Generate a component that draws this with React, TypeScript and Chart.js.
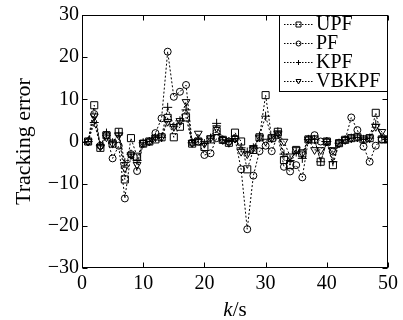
import React, { useEffect, useRef } from 'react';
import { Chart, registerables } from 'chart.js';

Chart.register(...registerables);

const kSteps = [1, 2, 3, 4, 5, 6, 7, 8, 9, 10, 11, 12, 13, 14, 15, 16, 17, 18, 19, 20, 21, 22, 23, 24, 25, 26, 27, 28, 29, 30, 31, 32, 33, 34, 35, 36, 37, 38, 39, 40, 41, 42, 43, 44, 45, 46, 47, 48, 49, 50];

const upf = [0, 8.6, -1.5, 1.5, -0.5, 2.3, -9, 0.8, -3.6, -0.5, 0, 0.5, 1, 5.6, 1, 3.5, 5.7, -0.5, 0, -1.3, 0.5, 2.5, 0.4, -0.3, 2.1, 0, -6.6, -2, 1, 11, 0.8, 2.3, -4.4, -5.6, -2, -2.8, 0.5, 0.5, -4.8, 0, -5.6, -0.4, 0.4, 0.8, 1, 0.5, 0.8, 6.8, 0.5, 0.5];
const pf = [0, 6.5, -1, 1.5, -4, -1, -13.5, -3, -7, -0.5, 0, 2, 5.5, 21.3, 10.6, 11.8, 13.4, -0.3, 0, -3.2, -2.8, 0.8, 0.4, 0, 0.7, -6.6, -20.8, -8.1, -2.3, -1, -2.3, 1.5, -6, -7.1, -5.6, -8.5, 0.5, 1.5, 0, 0, -2.4, -0.4, 0.4, 5.7, 2.7, -1.2, -4.8, -1, 0.5, 0.5];
const kpf = [0, 4.5, -1, 2, -0.3, 2, -5, -3, -4.5, -0.3, 0, 1, 1, 8.1, 3.5, 4.9, 7.5, -0.3, 0.5, -0.5, 0.8, 4.3, 0.4, 0, 0.7, -1.5, -2.5, -1.5, 1.3, 6, 0.8, 2.3, -3, -4.5, -2.5, -4, 0.5, 0.5, -4.8, 0, -4.8, -0.4, 0.4, 0.8, 1, 0.5, 0.8, 4.1, 1, 0.5];
const vbkpf = [0, 6, -1.2, 1, -0.5, 1.5, -6.3, -3.2, -5.5, -0.3, 0, 1, 1, 4.7, 3.5, 4.9, 9.4, -0.3, 1.9, -0.5, 0.8, 3.2, 0.4, -0.3, 0.7, -2.4, -3, -1.5, 1, 0, 0.8, 2, 0, -3.5, -2, -2.8, 0.5, -2, -2, 0, -2, -0.4, 0.4, 0.8, 1, 0.5, 0.8, 3.5, 2.3, 0.5];

const seriesNames = ['UPF', 'PF', 'KPF', 'VBKPF'];
const xTicks = [0, 10, 20, 30, 40, 50];
const yTicks = [-30, -20, -10, 0, 10, 20, 30];

const FONT = '"Liberation Serif", "DejaVu Serif", serif';

function drawMarker(ctx: CanvasRenderingContext2D, kind: string, x: number, y: number, r: number) {
  ctx.beginPath();
  if (kind === 'rect') {
    ctx.rect(x - r, y - r, 2 * r, 2 * r);
  } else if (kind === 'circle') {
    ctx.arc(x, y, r, 0, Math.PI * 2);
  } else if (kind === 'cross') {
    ctx.moveTo(x - r, y); ctx.lineTo(x + r, y);
    ctx.moveTo(x, y - r); ctx.lineTo(x, y + r);
  } else {
    ctx.moveTo(x - r, y - r * 0.8);
    ctx.lineTo(x + r, y - r * 0.8);
    ctx.lineTo(x, y + r);
    ctx.closePath();
  }
  ctx.stroke();
}

const markerKinds = ['rect', 'circle', 'cross', 'triDown'];

const framePlugin = {
  id: 'frame',
  afterDatasetsDraw(chart: any) {
    const { ctx, chartArea: a, scales } = chart;
    ctx.save();
    ctx.strokeStyle = '#000';
    ctx.lineWidth = 1;
    ctx.setLineDash([]);
    const L = Math.round(a.left) + 0.5;
    const R = Math.round(a.right) - 0.5;
    const T = Math.round(a.top) + 0.5;
    const B = Math.round(a.bottom) - 0.5;

    // legend
    ctx.font = `20px ${FONT}`;
    const textX = 316;
    const lx0 = 279.5, lx1 = R, ly0 = T, ly1 = 91.5;
    ctx.fillStyle = '#fff';
    ctx.fillRect(lx0, ly0, lx1 - lx0, ly1 - ly0);
    ctx.strokeRect(lx0, ly0, lx1 - lx0, ly1 - ly0);
    ctx.textBaseline = 'middle';
    ctx.textAlign = 'left';
    seriesNames.forEach((name, i) => {
      const y = 24 + i * 19;
      ctx.strokeStyle = '#000';
      ctx.lineWidth = 1;
      ctx.setLineDash([1.5, 1.5]);
      ctx.beginPath();
      ctx.moveTo(284, y + 0.5); ctx.lineTo(313, y + 0.5);
      ctx.stroke();
      ctx.setLineDash([]);
      drawMarker(ctx, markerKinds[i], 298.5, y + 0.5, 2.5);
      ctx.fillStyle = '#000';
      ctx.fillText(name, textX, y + 1);
    });

    ctx.strokeRect(L, T, R - L, B - T);
    const tl = 5;
    ctx.beginPath();
    xTicks.forEach((v) => {
      const px = Math.round(scales.x.getPixelForValue(v)) + 0.5;
      ctx.moveTo(px, B); ctx.lineTo(px, B - tl);
      ctx.moveTo(px, T); ctx.lineTo(px, T + tl);
    });
    yTicks.forEach((v) => {
      const py = Math.round(scales.y.getPixelForValue(v)) + 0.5;
      ctx.moveTo(L, py); ctx.lineTo(L + tl, py);
      if (py > ly1 || py < ly0) { ctx.moveTo(R, py); ctx.lineTo(R - tl, py); }
    });
    ctx.stroke();

    // axis titles
    ctx.fillStyle = '#000';
    ctx.textBaseline = 'alphabetic';
    ctx.font = `italic 21px ${FONT}`;
    const kw = ctx.measureText('k').width;
    ctx.font = `21px ${FONT}`;
    const sw = ctx.measureText('/s').width;
    const cx = (a.left + a.right) / 2;
    const startX = cx - (kw + sw) / 2;
    ctx.font = `italic 21px ${FONT}`;
    ctx.fillText('k', startX, 316);
    ctx.font = `21px ${FONT}`;
    ctx.fillText('/s', startX + kw, 316);

    ctx.save();
    ctx.translate(30, (a.top + a.bottom) / 2);
    ctx.rotate(-Math.PI / 2);
    ctx.textAlign = 'center';
    ctx.font = `22px ${FONT}`;
    ctx.fillText('Tracking error', 0, 0);
    ctx.restore();
    ctx.restore();
  },
};

export default function App() {
  const ref = useRef<HTMLCanvasElement | null>(null);
  useEffect(() => {
    if (!ref.current) return;
    const all = [upf, pf, kpf, vbkpf];
    const styles = [
      { pointStyle: 'rect', radius: 5, rot: 0 },
      { pointStyle: 'circle', radius: 3.5, rot: 0 },
      { pointStyle: 'cross', radius: 4.5, rot: 0 },
      { pointStyle: 'triangle', radius: 4.5, rot: 180 },
    ];
    const datasets = all.map((vals, i) => ({
      label: seriesNames[i],
      data: kSteps.map((k, j) => ({ x: k, y: vals[j] })),
      borderColor: '#000',
      borderWidth: 1,
      borderDash: [2, 2],
      pointStyle: styles[i].pointStyle as any,
      pointRadius: styles[i].radius,
      pointRotation: styles[i].rot,
      pointBorderColor: '#000',
      pointBackgroundColor: 'rgba(0,0,0,0)',
      pointBorderWidth: 1,
      fill: false,
      tension: 0,
    }));
    const chart = new Chart(ref.current, {
      type: 'line',
      data: { datasets },
      options: {
        animation: false,
        responsive: false,
        layout: { padding: { left: 0, right: 15, top: 15, bottom: 0 } },
        plugins: { legend: { display: false }, tooltip: { enabled: false } },
        scales: {
          x: {
            type: 'linear',
            min: 0,
            max: 50,
            grid: { display: false, drawTicks: false },
            border: { display: false },
            afterFit: (s: any) => { s.height = 52; },
            afterBuildTicks: (s: any) => { s.ticks = xTicks.map((v) => ({ value: v })); },
            ticks: {
              autoSkip: false,
              maxRotation: 0,
              padding: 4,
              color: '#000',
              font: { family: FONT, size: 20 },
            },
          },
          y: {
            type: 'linear',
            min: -30,
            max: 30,
            grid: { display: false, drawTicks: false },
            border: { display: false },
            afterFit: (s: any) => { s.width = 82; },
            afterBuildTicks: (s: any) => { s.ticks = yTicks.map((v) => ({ value: v })); },
            ticks: {
              autoSkip: false,
              padding: 3,
              color: '#000',
              font: { family: FONT, size: 20 },
              callback: (v: any) => (Number(v) < 0 ? '\u2212' + Math.abs(Number(v)) : String(v)),
            },
          },
        },
      },
      plugins: [framePlugin],
    });
    return () => chart.destroy();
  }, []);
  return (
    <div style={{ position: 'fixed', left: 0, top: 0, width: 403, height: 320, background: '#fff' }}>
      <canvas ref={ref} width={403} height={320} style={{ display: 'block', width: 403, height: 320 }} />
    </div>
  );
}
